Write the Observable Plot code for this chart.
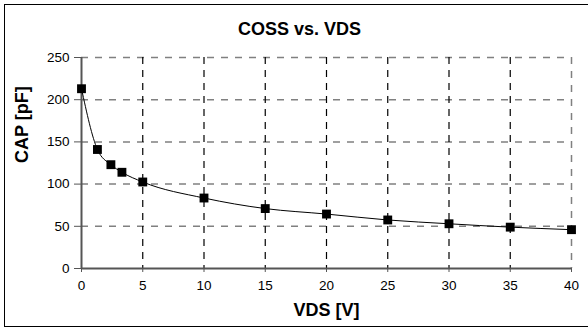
<!DOCTYPE html>
<html>
<head>
<meta charset="utf-8">
<script src="https://cdn.jsdelivr.net/npm/d3@7"></script>
<script src="https://cdn.jsdelivr.net/npm/@observablehq/plot@0.6"></script>
<style>
  html, body { margin: 0; padding: 0; background: #fff; overflow: hidden; }
  #wrap { position: relative; width: 588px; height: 331px; overflow: hidden; }
  #border { position: absolute; left: 4px; top: 4px; width: 620px; height: 323px; border: 1.6px solid #000; box-sizing: border-box; }
  #chart { position: absolute; left: 0; top: 0; }
</style>
</head>
<body>
<div id="wrap"><div id="border"></div><div id="chart"></div></div>
<script>
const vds  = [0, 1.3, 2.4, 3.3, 5, 10, 15, 20, 25, 30, 35, 40];
const coss = [213, 141, 123, 114, 102.5, 83.5, 71, 64.5, 57.5, 53, 49, 46];
const xTicks = [0, 5, 10, 15, 20, 25, 30, 35, 40];
const yTicks = [0, 50, 100, 150, 200, 250];
const titleText = "COSS vs. VDS";
const xLabel = "VDS [V]";
const yLabel = "CAP [pF]";

const data = vds.map((x, i) => ({x, y: coss[i]}));
const font = "'Liberation Sans', Arial, sans-serif";

const chart = Plot.plot({
  width: 588, height: 331,
  marginLeft: 81, marginRight: 17, marginTop: 57, marginBottom: 63,
  style: {fontFamily: font, fontSize: "13.5px", background: "transparent", color: "#000", overflow: "visible"},
  x: {domain: [0, 40]},
  y: {domain: [0, 250]},
  marks: [
    Plot.ruleY(yTicks.filter(d => d > 0), {stroke: "#808080", strokeWidth: 1.5, strokeDasharray: "7,7"}),
    Plot.ruleX(xTicks.filter(d => d > 0 && d < 40), {stroke: "#000", strokeWidth: 1.2, strokeDasharray: "7,6"}),
    Plot.ruleX([40], {stroke: "#808080", strokeWidth: 1.5, strokeDasharray: "7,7"}),
    Plot.axisY({ticks: yTicks, tickSize: 7, tickPadding: 5, label: null, stroke: "#555", fill: "#000"}),
    Plot.axisX({ticks: xTicks, tickSize: 4, tickPadding: 8, label: null, stroke: "#555", fill: "#000"}),
    Plot.ruleX([0], {stroke: "#555", strokeWidth: 2}),
    Plot.ruleY([0], {stroke: "#555", strokeWidth: 2}),
    Plot.line(data, {x: "x", y: "y", curve: "monotone-x", stroke: "#000", strokeWidth: 1}),
    Plot.dot(data, {x: "x", y: "y", symbol: "square", r: 5, fill: "#000", stroke: "none"}),
    Plot.text([titleText], {frameAnchor: "top", dx: -27, dy: -28, fontWeight: "bold", fontSize: 18, lineAnchor: "middle", fill: "#000"}),
    Plot.text([xLabel], {frameAnchor: "bottom", dy: 42, fontWeight: "bold", fontSize: 18, lineAnchor: "middle", fill: "#000"}),
    Plot.text([yLabel], {frameAnchor: "left", dx: -59, rotate: -90, fontWeight: "bold", fontSize: 18, lineAnchor: "middle", fill: "#000"})
  ]
});
document.getElementById("chart").appendChild(chart);
</script>
</body>
</html>
